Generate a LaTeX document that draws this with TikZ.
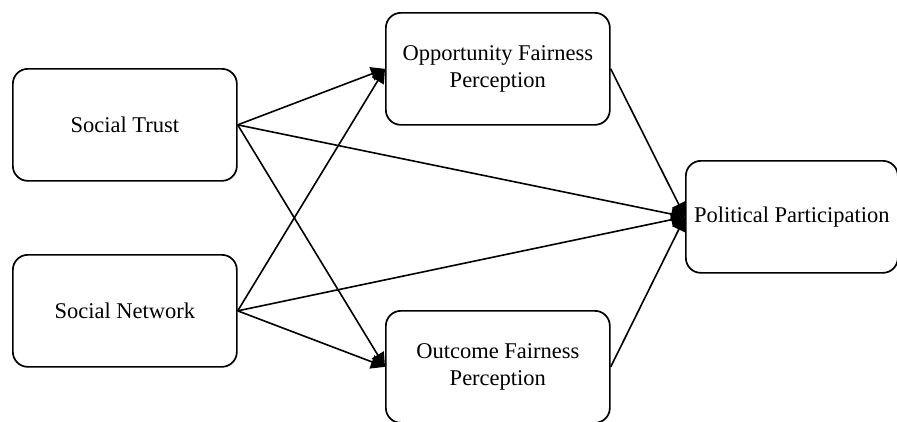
\documentclass[tikz,border=0pt]{standalone}
\usepackage{fontspec}
\setmainfont{Liberation Serif}
\usetikzlibrary{arrows.meta}
\begin{document}
\begin{tikzpicture}[x=1pt,y=-1pt,
  box/.style={draw, line width=1.7pt, rounded corners=15pt, minimum width=224pt, minimum height=112pt, align=center, font=\fontsize{22.5}{27}\selectfont, inner sep=0pt, anchor=north west},
  conn/.style={line width=1.6pt, -{Triangle[length=14pt,width=14pt]}}]
\useasboundingbox (0,0) rectangle (897,421);
\node[box] (st) at (12,68) {Social Trust};
\node[box] (sn) at (12,254) {Social Network};
\node[box] (of) at (385,12) {Opportunity Fairness\\Perception};
\node[box] (oc) at (385,310) {Outcome Fairness\\Perception};
\node[box, minimum width=212pt] (pp) at (685,160) {Political Participation};
\draw[conn] (st.east) -- (of.west);
\draw[conn] (st.east) -- (oc.west);
\draw[conn] (st.east) -- (pp.west);
\draw[conn] (sn.east) -- (of.west);
\draw[conn] (sn.east) -- (oc.west);
\draw[conn] (sn.east) -- (pp.west);
\draw[conn] (of.east) -- (pp.west);
\draw[conn] (oc.east) -- (pp.west);
\end{tikzpicture}
\end{document}
